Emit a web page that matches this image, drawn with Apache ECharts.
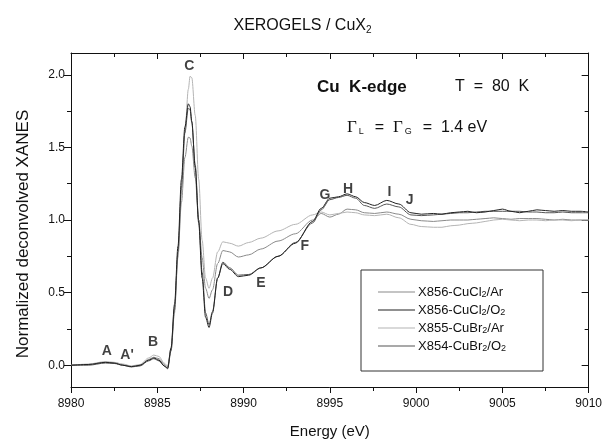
<!DOCTYPE html>
<html>
<head>
<meta charset="utf-8">
<script src="https://cdn.jsdelivr.net/npm/echarts@6/dist/echarts.min.js"></script>
<style>
  html, body { margin: 0; padding: 0; background: #fff; }
  #chart { width: 605px; height: 444px; }
</style>
</head>
<body>
<div id="chart"></div>
<script>
// energy grid (eV), shared by all spectra
const energies = [8980, 8981, 8982, 8982.5, 8983, 8983.5, 8984, 8984.5, 8984.8, 8985.1,
    8985.4, 8985.6, 8985.8, 8986.0, 8986.2, 8986.4, 8986.6, 8986.8, 8986.9, 8987.0,
    8987.2, 8987.4, 8987.6, 8987.8, 8988.0, 8988.2, 8988.5, 8988.8, 8989.2, 8989.7,
    8990.3, 8991, 8992, 8993, 8994, 8994.5, 8995, 8995.5, 8996, 8996.5,
    8997, 8997.6, 8998.3, 8999, 8999.7, 9000.3, 9001, 9001.5, 9002, 9002.5,
    9003, 9003.5, 9004, 9004.5, 9005, 9005.5, 9006, 9006.5, 9007, 9007.5,
    9008, 9008.5, 9009, 9009.5, 9010];

const cuCl2Ar = [0.0, 0.005, 0.02, 0.018, 0.005, -0.008, 0.0, 0.04, 0.055, 0.045,
    0.005, -0.01, 0.12, 0.40, 0.76, 1.12, 1.43, 1.57, 1.565, 1.51,
    1.29, 1.0, 0.74, 0.53, 0.46, 0.52, 0.70, 0.79, 0.78, 0.745,
    0.76, 0.80, 0.855, 0.905, 1.0, 1.045, 1.02, 1.04, 1.075, 1.07,
    1.05, 1.045, 1.055, 1.04, 1.005, 0.995, 0.99, 0.995, 1.0, 1.0,
    1.0, 1.005, 1.01, 1.015, 1.01, 1.005, 1.01, 1.01, 1.01, 1.005,
    1.0, 1.005, 1.0, 1.0, 1.0];

const cuCl2O2 = [0.0, 0.005, 0.02, 0.015, 0.0, -0.01, 0.0, 0.035, 0.05, 0.035,
    -0.005, -0.02, 0.12, 0.42, 0.82, 1.28, 1.64, 1.80, 1.78, 1.68,
    1.36, 0.98, 0.60, 0.33, 0.26, 0.36, 0.60, 0.70, 0.66, 0.61,
    0.62, 0.67, 0.75, 0.84, 0.99, 1.08, 1.15, 1.16, 1.18, 1.16,
    1.12, 1.10, 1.135, 1.11, 1.05, 1.04, 1.045, 1.04, 1.05, 1.055,
    1.06, 1.05, 1.055, 1.065, 1.075, 1.06, 1.05, 1.06, 1.07, 1.065,
    1.06, 1.065, 1.06, 1.06, 1.055];

const cuBr2Ar = [0.0, 0.008, 0.025, 0.02, 0.008, -0.005, 0.005, 0.05, 0.07, 0.06,
    0.015, -0.005, 0.10, 0.36, 0.74, 1.18, 1.60, 1.90, 1.99, 1.98,
    1.72, 1.28, 0.86, 0.60, 0.53, 0.60, 0.78, 0.85, 0.84, 0.82,
    0.845, 0.875, 0.925, 0.97, 1.035, 1.055, 1.035, 1.045, 1.055, 1.05,
    1.035, 1.03, 1.04, 1.015, 0.97, 0.955, 0.95, 0.95, 0.96, 0.965,
    0.975, 0.98, 0.99, 1.0, 1.005, 1.0, 0.995, 1.0, 1.0, 0.995,
    1.0, 1.0, 0.995, 1.0, 1.0];

const cuBr2O2 = [0.0, 0.0, 0.015, 0.012, 0.0, -0.012, -0.005, 0.03, 0.045, 0.03,
    -0.005, -0.025, 0.10, 0.38, 0.78, 1.22, 1.60, 1.77, 1.76, 1.67,
    1.38, 1.0, 0.64, 0.36, 0.28, 0.37, 0.60, 0.71, 0.67, 0.62,
    0.625, 0.67, 0.75, 0.845, 0.98, 1.07, 1.14, 1.155, 1.17, 1.15,
    1.10, 1.08, 1.11, 1.09, 1.035, 1.03, 1.035, 1.04, 1.045, 1.05,
    1.05, 1.055, 1.06, 1.06, 1.06, 1.06, 1.06, 1.055, 1.055, 1.05,
    1.05, 1.055, 1.05, 1.05, 1.05];

const seriesNames = ['X856-CuCl2/Ar', 'X856-CuCl2/O2', 'X855-CuBr2/Ar', 'X854-CuBr2/O2'];
const seriesValues = [cuCl2Ar, cuCl2O2, cuBr2Ar, cuBr2O2];
const seriesColors = ['#8a8a8a', '#222222', '#b4b4b4', '#555555'];

// peak labels
const peakLabels = ['A', "A'", 'B', 'C', 'D', 'E', 'F', 'G', 'H', 'I', 'J'];
const peakX = [8982.07, 8983.25, 8984.75, 8986.85, 8989.1, 8991.0, 8993.55, 8994.72, 8996.06, 8998.46, 8999.63];
const peakY = [0.096, 0.07, 0.16, 2.06, 0.504, 0.566, 0.818, 1.17, 1.215, 1.19, 1.14];

const yLabelValues = [0, 0.5, 1.0, 1.5, 2.0];
const yMinorValues = [-0.25, 0.25, 0.75, 1.25, 1.75];

const FONT = 'Arial, "Liberation Sans", sans-serif';
const chart = echarts.init(document.getElementById('chart'));

function subName(name) {
    // "CuCl2/O2" -> rich subscripts
    return name.replace(/([A-Za-z])2/g, '$1{sub|2}');
}

const lineSeries = seriesNames.map((name, i) => ({
    name: name,
    type: 'line',
    data: energies.map((e, j) => [e, seriesValues[i][j]]),
    showSymbol: false,
    symbol: 'none',
    smooth: 0.3,
    smoothMonotone: 'x',
    lineStyle: { color: seriesColors[i], width: 1 },
    itemStyle: { color: seriesColors[i] },
    z: i === 1 ? 4 : 3
}));

const xBase = { type: 'value', min: 8980, max: 9010, interval: 5, splitLine: { show: false } };
const yBase = { type: 'value', min: -0.15, max: 2.15, splitLine: { show: false } };
const frameLine = { show: true, onZero: false, lineStyle: { color: '#111', width: 1 } };

const option = {
    animation: false,
    title: {
        text: 'XEROGELS / CuX{sub|2}',
        left: 'center',
        top: 12,
        textStyle: {
            fontFamily: FONT, fontSize: 16, fontWeight: 'normal', color: '#111',
            rich: { sub: { fontFamily: FONT, fontSize: 10, verticalAlign: 'bottom', padding: [8, 0, 0, 0], color: '#111' } }
        }
    },
    grid: { left: 71, right: 16, top: 53, bottom: 57 },
    legend: {
        orient: 'vertical',
        left: 378,
        top: 285,
        padding: 0,
        icon: 'rect',
        itemWidth: 37,
        itemHeight: 1,
        itemGap: 4,
        data: seriesNames,
        formatter: name => subName(name),
        textStyle: {
            fontFamily: FONT, fontSize: 13, color: '#111', lineHeight: 14, padding: [0, 0, 0, -2],
            rich: { sub: { fontFamily: FONT, fontSize: 9, verticalAlign: 'bottom', padding: [6, 0, 0, 0], color: '#111' } }
        }
    },
    graphic: [
        { type: 'rect', shape: { x: 361, y: 270, width: 182, height: 101 }, style: { fill: 'none', stroke: '#333', lineWidth: 1 }, z: 10 },
        { type: 'text', left: 317, top: 79, style: { text: 'Cu  K-edge', font: 'bold 17px ' + FONT, fill: '#111' } },
        { type: 'text', left: 455, top: 79, style: { text: 'T  =  80  K', font: '16px ' + FONT, fill: '#111' } },
        {
            type: 'text', left: 347, top: 119,
            style: {
                text: '{g|Γ}{s|L}  =  {g|Γ}{s|G}  =  1.4 eV',
                font: '16px ' + FONT, fill: '#111',
                rich: {
                    g: { fontFamily: '"Liberation Serif", "DejaVu Serif", serif', fontSize: 17, fill: '#111' },
                    s: { fontFamily: FONT, fontSize: 9, verticalAlign: 'bottom', padding: [9, 2, 0, 2], fill: '#111' }
                }
            }
        }
    ],
    xAxis: [
        Object.assign({}, xBase, {
            position: 'bottom',
            name: 'Energy (eV)', nameLocation: 'middle', nameGap: 37,
            nameTextStyle: { fontFamily: FONT, fontSize: 15, color: '#111' },
            axisLine: frameLine,
            axisTick: { inside: false, length: 6, lineStyle: { color: '#111' } },
            minorTick: { show: true, splitNumber: 2, length: 4, lineStyle: { color: '#111' } },
            axisLabel: { fontFamily: FONT, fontSize: 12, color: '#111', margin: 11, formatter: v => String(v) }
        }),
        Object.assign({}, xBase, {
            position: 'top',
            axisLine: frameLine,
            axisTick: { inside: true, length: 6, lineStyle: { color: '#111' } },
            minorTick: { show: true, splitNumber: 2, length: 4, lineStyle: { color: '#111' } },
            axisLabel: { show: false }
        })
    ],
    yAxis: [
        Object.assign({}, yBase, {
            position: 'left',
            name: 'Normalized deconvolved XANES', nameLocation: 'middle', nameGap: 39,
            nameTextStyle: { fontFamily: FONT, fontSize: 17, color: '#111', padding: [0, 0, 0, -28] },
            axisLine: frameLine,
            axisTick: { inside: false, length: 7, customValues: yLabelValues, lineStyle: { color: '#111' } },
            axisLabel: { fontFamily: FONT, fontSize: 12, color: '#111', margin: 6, customValues: yLabelValues, formatter: v => v.toFixed(1) }
        }),
        Object.assign({}, yBase, {
            position: 'left',
            axisLine: { show: false },
            axisTick: { inside: false, length: 4, customValues: yMinorValues, lineStyle: { color: '#111' } },
            axisLabel: { show: false }
        }),
        Object.assign({}, yBase, {
            position: 'right',
            axisLine: frameLine,
            axisTick: { inside: true, length: 7, customValues: yLabelValues, lineStyle: { color: '#111' } },
            axisLabel: { show: false }
        }),
        Object.assign({}, yBase, {
            position: 'right',
            axisLine: { show: false },
            axisTick: { inside: true, length: 4, customValues: yMinorValues, lineStyle: { color: '#111' } },
            axisLabel: { show: false }
        })
    ],
    series: lineSeries.concat([{
        type: 'scatter',
        symbolSize: 0,
        silent: true,
        data: peakLabels.map((t, i) => ({ name: t, value: [peakX[i], peakY[i]] })),
        label: {
            show: true, position: 'inside', formatter: p => p.name,
            fontFamily: FONT, fontSize: 14, fontWeight: 'bold', color: '#111'
        },
        z: 6
    }])
};

chart.setOption(option);
</script>
</body>
</html>
